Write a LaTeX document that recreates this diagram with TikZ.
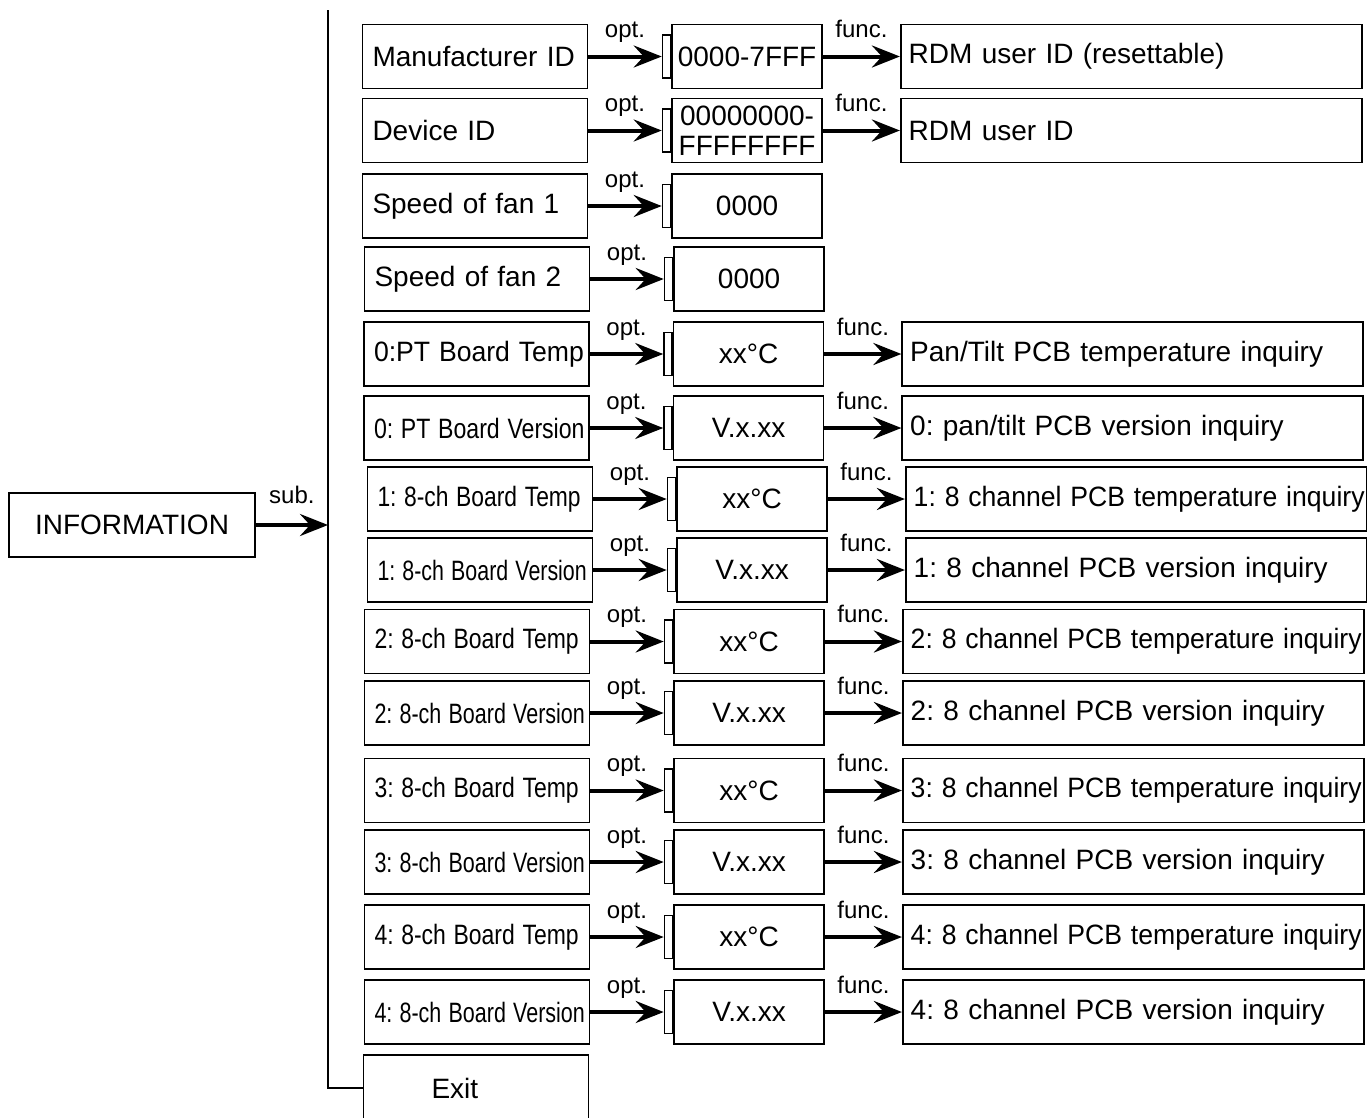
\documentclass[tikz,border=0pt]{standalone}
\usepackage{fontspec}
\setmainfont{Liberation Sans}
\usepackage{graphicx}
\usetikzlibrary{arrows.meta,positioning}
\frenchspacing

\begin{document}
\begin{tikzpicture}[
    x=1pt, y=-1pt,
    font=\fontsize{28}{30}\selectfont,
    menu/.style={draw, line width=1.6pt, minimum height=64pt, text width=205pt, inner xsep=10pt, align=left,
      execute at begin node=\hbox\bgroup, execute at end node=\egroup},
    value/.style={draw, line width=1.6pt, minimum height=64pt, minimum width=150pt, inner sep=2pt, align=center},
    tab/.style={draw, line width=1.6pt, minimum width=8pt, minimum height=43pt, inner sep=0pt},
    result/.style={draw, line width=1.6pt, minimum height=64pt, text width=445pt, inner xsep=8pt, align=left,
      execute at begin node=\hbox\bgroup, execute at end node=\egroup},
    arrow/.style={-{Stealth[length=28pt,width=22pt,inset=10pt]}, line width=4pt},
    wire/.style={line width=1.6pt},
    lbl/.style={font=\fontsize{24}{26}\selectfont, anchor=base, yshift=19pt, inner sep=0pt}
  ]
    \useasboundingbox (0,0) rectangle (1367,1117);

    \node[draw, line width=1.6pt, minimum width=246pt, minimum height=64pt] (info) at (132,525) {INFORMATION};
    \coordinate (top) at (328,10);
    \coordinate (hub) at (328,525);
    \draw[arrow] (info) -- node[lbl, yshift=3pt]{sub.} (hub);

    % row 1
    \node[menu] (m1) at (475,56.5) {Manufacturer ID};
    \node[value, right=83pt of m1] (v1) {0000-7FFF};
    \node[tab, left=0pt of v1] (t1) {};
    \node[result, right=77pt of v1] (r1) {RDM user ID (resettable)};
    \draw[arrow] (m1) -- node[lbl]{opt.} (t1);
    \draw[arrow] (v1) -- node[lbl]{func.} (r1);

    % row 2
    \node[menu] (m2) at (475,130.5) {Device ID};
    \node[value, right=83pt of m2] (v2) {00000000-\\FFFFFFFF};
    \node[tab, left=0pt of v2] (t2) {};
    \node[result, right=77pt of v2] (r2) {RDM user ID};
    \draw[arrow] (m2) -- node[lbl]{opt.} (t2);
    \draw[arrow] (v2) -- node[lbl]{func.} (r2);

    % row 3
    \node[menu] (m3) at (475,206) {Speed of fan 1};
    \node[value, right=83pt of m3] (v3) {0000};
    \node[tab, left=0pt of v3] (t3) {};
    \draw[arrow] (m3) -- node[lbl]{opt.} (t3);

    % row 4
    \node[menu] (m4) at (477,279) {Speed of fan 2};
    \node[value, right=83pt of m4] (v4) {0000};
    \node[tab, left=0pt of v4] (t4) {};
    \draw[arrow] (m4) -- node[lbl]{opt.} (t4);

    % row 5
    \node[menu] (m5) at (476.5,354) {\scalebox{0.95}[1]{0:PT Board Temp}};
    \node[value, right=83pt of m5] (v5) {xx°C};
    \node[tab, left=0pt of v5] (t5) {};
    \node[result, right=77pt of v5] (r5) {Pan/Tilt PCB temperature inquiry};
    \draw[arrow] (m5) -- node[lbl]{opt.} (t5);
    \draw[arrow] (v5) -- node[lbl]{func.} (r5);

    % row 6
    \node[menu] (m6) at (476.5,428) {\scalebox{0.825}[1]{0: PT Board Version}};
    \node[value, right=83pt of m6] (v6) {V.x.xx};
    \node[tab, left=0pt of v6] (t6) {};
    \node[result, right=77pt of v6] (r6) {0: pan/tilt PCB version inquiry};
    \draw[arrow] (m6) -- node[lbl]{opt.} (t6);
    \draw[arrow] (v6) -- node[lbl]{func.} (r6);

    % row 7
    \node[menu] (m7) at (480,499) {\scalebox{0.816}[1]{1: 8-ch Board Temp}};
    \node[value, right=83pt of m7] (v7) {xx°C};
    \node[tab, left=0pt of v7] (t7) {};
    \node[result, right=77pt of v7] (r7) {\scalebox{0.95}[1]{1: 8 channel PCB temperature inquiry}};
    \draw[arrow] (m7) -- node[lbl]{opt.} (t7);
    \draw[arrow] (v7) -- node[lbl]{func.} (r7);

    % row 8
    \node[menu] (m8) at (480,570) {\scalebox{0.764}[1]{1: 8-ch Board Version}};
    \node[value, right=83pt of m8] (v8) {V.x.xx};
    \node[tab, left=0pt of v8] (t8) {};
    \node[result, right=77pt of v8] (r8) {1: 8 channel PCB version inquiry};
    \draw[arrow] (m8) -- node[lbl]{opt.} (t8);
    \draw[arrow] (v8) -- node[lbl]{func.} (r8);

    % row 9
    \node[menu] (m9) at (477,641.5) {\scalebox{0.82}[1]{2: 8-ch Board Temp}};
    \node[value, right=83pt of m9] (v9) {xx°C};
    \node[tab, left=0pt of v9] (t9) {};
    \node[result, right=77pt of v9] (r9) {\scalebox{0.95}[1]{2: 8 channel PCB temperature inquiry}};
    \draw[arrow] (m9) -- node[lbl]{opt.} (t9);
    \draw[arrow] (v9) -- node[lbl]{func.} (r9);

    % row 10
    \node[menu] (m10) at (477,713) {\scalebox{0.768}[1]{2: 8-ch Board Version}};
    \node[value, right=83pt of m10] (v10) {V.x.xx};
    \node[tab, left=0pt of v10] (t10) {};
    \node[result, right=77pt of v10] (r10) {2: 8 channel PCB version inquiry};
    \draw[arrow] (m10) -- node[lbl]{opt.} (t10);
    \draw[arrow] (v10) -- node[lbl]{func.} (r10);

    % row 11
    \node[menu] (m11) at (477,790.5) {\scalebox{0.82}[1]{3: 8-ch Board Temp}};
    \node[value, right=83pt of m11] (v11) {xx°C};
    \node[tab, left=0pt of v11] (t11) {};
    \node[result, right=77pt of v11] (r11) {\scalebox{0.95}[1]{3: 8 channel PCB temperature inquiry}};
    \draw[arrow] (m11) -- node[lbl]{opt.} (t11);
    \draw[arrow] (v11) -- node[lbl]{func.} (r11);

    % row 12
    \node[menu] (m12) at (477,862) {\scalebox{0.768}[1]{3: 8-ch Board Version}};
    \node[value, right=83pt of m12] (v12) {V.x.xx};
    \node[tab, left=0pt of v12] (t12) {};
    \node[result, right=77pt of v12] (r12) {3: 8 channel PCB version inquiry};
    \draw[arrow] (m12) -- node[lbl]{opt.} (t12);
    \draw[arrow] (v12) -- node[lbl]{func.} (r12);

    % row 13
    \node[menu] (m13) at (477,937) {\scalebox{0.82}[1]{4: 8-ch Board Temp}};
    \node[value, right=83pt of m13] (v13) {xx°C};
    \node[tab, left=0pt of v13] (t13) {};
    \node[result, right=77pt of v13] (r13) {\scalebox{0.95}[1]{4: 8 channel PCB temperature inquiry}};
    \draw[arrow] (m13) -- node[lbl]{opt.} (t13);
    \draw[arrow] (v13) -- node[lbl]{func.} (r13);

    % row 14
    \node[menu] (m14) at (477,1012) {\scalebox{0.768}[1]{4: 8-ch Board Version}};
    \node[value, right=83pt of m14] (v14) {V.x.xx};
    \node[tab, left=0pt of v14] (t14) {};
    \node[result, right=77pt of v14] (r14) {4: 8 channel PCB version inquiry};
    \draw[arrow] (m14) -- node[lbl]{opt.} (t14);
    \draw[arrow] (v14) -- node[lbl]{func.} (r14);

    % exit
    \node[menu, minimum height=66pt] (exit) at (476,1088) {\hspace*{58pt}Exit};
    \draw[wire] (top) |- (exit);
  \end{tikzpicture}
\end{document}
